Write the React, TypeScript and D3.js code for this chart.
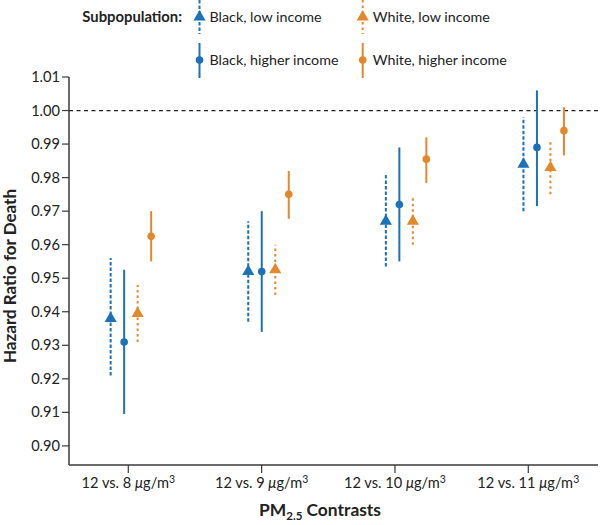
import React from "react";
import * as d3 from "d3";

const categories = ["8", "9", "10", "11"];
const seriesNames = ["Black, low income", "Black, higher income", "White, low income", "White, higher income"];
const seriesColors = ["#1b72b8", "#1b72b8", "#e3892c", "#e3892c"];
const seriesShapes = ["triangle", "circle", "triangle", "circle"];
const seriesDash = ["3.5,2", null, "2.5,3", null];

const blackLowHR = [0.938, 0.952, 0.967, 0.984];
const blackLowLo = [0.921, 0.937, 0.9535, 0.970];
const blackLowHi = [0.956, 0.967, 0.981, 0.998];

const blackHighHR = [0.931, 0.952, 0.972, 0.989];
const blackHighLo = [0.9095, 0.934, 0.955, 0.9715];
const blackHighHi = [0.9525, 0.970, 0.989, 1.006];

const whiteLowHR = [0.9395, 0.9525, 0.967, 0.983];
const whiteLowLo = [0.931, 0.945, 0.960, 0.975];
const whiteLowHi = [0.948, 0.960, 0.9747, 0.991];

const whiteHighHR = [0.9625, 0.975, 0.9855, 0.994];
const whiteHighLo = [0.955, 0.9677, 0.9784, 0.9866];
const whiteHighHi = [0.970, 0.982, 0.992, 1.001];

const yTicks = [0.90, 0.91, 0.92, 0.93, 0.94, 0.95, 0.96, 0.97, 0.98, 0.99, 1.00, 1.01];

const estimates = [blackLowHR, blackHighHR, whiteLowHR, whiteHighHR];
const lows = [blackLowLo, blackHighLo, whiteLowLo, whiteHighLo];
const highs = [blackLowHi, blackHighHi, whiteLowHi, whiteHighHi];

const FONT = "Lato, 'Open Sans', sans-serif";
const AXIS = "#3a3a3a";
const TEXT = "#222";

function Marker({ shape, x, y, color }: { shape: string; x: number; y: number; color: string }) {
  if (shape === "triangle") {
    const p = d3.symbol(d3.symbolTriangle, 64)();
    return <path d={p || ""} transform={`translate(${x},${y})`} fill={color} />;
  }
  return <circle cx={x} cy={y} r={3.8} fill={color} />;
}

export default function App() {
  const y = d3.scaleLinear().domain([0.8943, 1.01]).range([465, 77]);
  const xTick = d3.scalePoint<string>().domain(categories).range([128.3, 528.3]);
  const xMark = d3.scalePoint<string>().domain(categories).range([130.9, 543.7]);
  const offsets = [-20.25, -6.75, 6.75, 20.25];
  const axisLeft = 69;
  const axisRight = 598;

  return (
    <div style={{ position: "absolute", left: 0, top: 0 }}>
      <svg width={600} height={525} style={{ display: "block", fontFamily: FONT }}>
        {/* Legend */}
        <text x={182} y={22} textAnchor="end" fontWeight={700} fontSize={14.8} fill={TEXT}>
          Subpopulation:
        </text>
        {seriesNames.map((name, i) => {
          const col = i < 2 ? 0 : 1;
          const row = i % 2;
          const sx = col === 0 ? 199.5 : 362.7;
          const cy = row === 0 ? 17 : 60;
          const y0 = row === 0 ? 0 : 43;
          const y1 = row === 0 ? 34 : 78;
          return (
            <g key={name}>
              <line x1={sx} x2={sx} y1={y0} y2={y1} stroke={seriesColors[i]} strokeWidth={2}
                strokeDasharray={seriesDash[i] || undefined} />
              <Marker shape={seriesShapes[i]} x={sx} y={cy} color={seriesColors[i]} />
              <text x={sx + 10} y={cy + 5} fontSize={14.3} fill={TEXT}>{name}</text>
            </g>
          );
        })}

        {/* Axes */}
        <line x1={axisLeft} x2={axisLeft} y1={y(1.01)} y2={465} stroke={AXIS} strokeWidth={1.5} />
        <line x1={axisLeft} x2={axisRight} y1={465} y2={465} stroke={AXIS} strokeWidth={1.5} />
        {yTicks.map((t) => (
          <g key={t}>
            <line x1={axisLeft - 7} x2={axisLeft} y1={y(t)} y2={y(t)} stroke={AXIS} strokeWidth={1.2} />
            <text x={60} y={y(t) + 5} textAnchor="end" fontSize={14.6} fill={TEXT}>{t.toFixed(2)}</text>
          </g>
        ))}
        {categories.map((c) => (
          <g key={c}>
            <line x1={xTick(c)} x2={xTick(c)} y1={465} y2={473} stroke={AXIS} strokeWidth={1.2} />
            <text x={xTick(c)} y={488} textAnchor="middle" fontSize={14.6} fill={TEXT}>
              12 vs. {c} <tspan fontStyle="italic">μ</tspan>g/m<tspan dy={-5} fontSize={10.5}>3</tspan>
            </text>
          </g>
        ))}
        <text x={320} y={516} textAnchor="middle" fontWeight={700} fontSize={17.4} fill={TEXT}>
          PM<tspan dy={4} fontSize={11.5}>2.5</tspan><tspan dy={-4}> Contrasts</tspan>
        </text>
        <text transform={`translate(16,${276}) rotate(-90)`} textAnchor="middle" fontWeight={700} fontSize={17} fill={TEXT}>
          Hazard Ratio for Death
        </text>

        {/* Reference line */}
        <line x1={axisLeft} x2={axisRight} y1={y(1.0)} y2={y(1.0)} stroke="#222" strokeWidth={1.3} strokeDasharray="4,3.5" />

        {/* Data */}
        {estimates.map((est, s) =>
          categories.map((c, i) => {
            const x = (xMark(c) || 0) + offsets[s];
            return (
              <g key={`${s}-${i}`}>
                <line x1={x} x2={x} y1={y(lows[s][i])} y2={y(highs[s][i])} stroke={seriesColors[s]} strokeWidth={2}
                  strokeDasharray={seriesDash[s] || undefined} />
                <Marker shape={seriesShapes[s]} x={x} y={y(est[i])} color={seriesColors[s]} />
              </g>
            );
          })
        )}
      </svg>
    </div>
  );
}
